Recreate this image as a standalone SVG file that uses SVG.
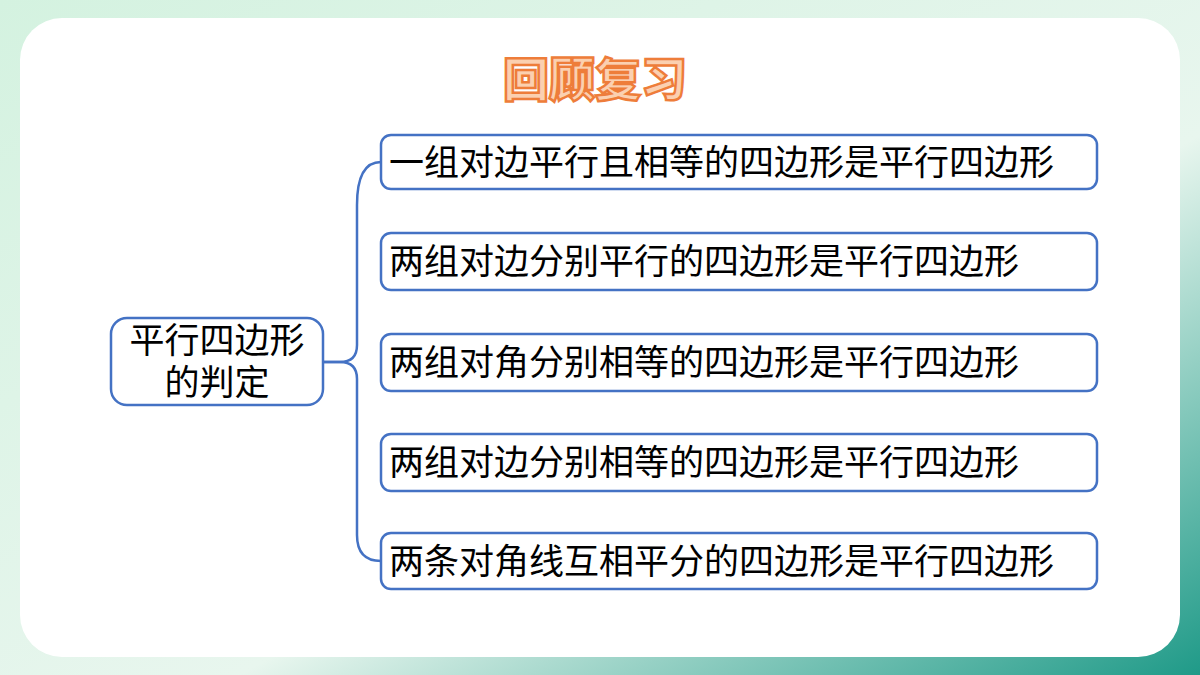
<svg xmlns="http://www.w3.org/2000/svg" width="1200" height="675" viewBox="0 0 1200 675">
<defs>
<linearGradient id="bg" x1="0" y1="0" x2="1" y2="1">
<stop offset="0" stop-color="#d4f2e0"/><stop offset="0.6" stop-color="#e8f6ee"/><stop offset="1" stop-color="#1f9a88"/>
</linearGradient>
<style>
.box{fill:#fff;stroke:#4472c4;stroke-width:2.5}
.t{font-family:"Noto Sans CJK SC",sans-serif;font-size:35px;fill:#000}
.c{fill:none;stroke:#4472c4;stroke-width:2.5}
</style>
</defs>
<rect width="1200" height="675" fill="url(#bg)"/>
<rect x="20" y="18" width="1160" height="639" rx="42" fill="#fff"/>
<text x="595" y="96" text-anchor="middle" font-family="Noto Sans CJK SC,sans-serif" font-weight="900" font-size="46" fill="#fbd0b0" stroke="#ee7d3a" stroke-width="2.5">回顾复习</text>
<g id="connectors">
<path class="c" d="M323,362 H340 Q357,362 357,345 V205 Q357,162 381,162"/>
<path class="c" d="M323,362 H340 Q357,362 357,379 V535 Q357,561 381,561"/>
</g>
<g id="root"><rect class="box" x="111" y="318" width="212" height="87" rx="16"/>
<text class="t" x="217" y="353" text-anchor="middle">平行四边形</text><text class="t" x="217" y="395" text-anchor="middle">的判定</text></g>
<g id="n1"><rect class="box" x="381" y="135" width="716" height="54" rx="10"/><text class="t" x="389" y="175">一组对边平行且相等的四边形是平行四边形</text></g>
<g id="n2"><rect class="box" x="381" y="233" width="716" height="57" rx="10"/><text class="t" x="389" y="274">两组对边分别平行的四边形是平行四边形</text></g>
<g id="n3"><rect class="box" x="381" y="334" width="716" height="57" rx="10"/><text class="t" x="389" y="375">两组对角分别相等的四边形是平行四边形</text></g>
<g id="n4"><rect class="box" x="381" y="434" width="716" height="57" rx="10"/><text class="t" x="389" y="475">两组对边分别相等的四边形是平行四边形</text></g>
<g id="n5"><rect class="box" x="381" y="533" width="716" height="56" rx="10"/><text class="t" x="389" y="574">两条对角线互相平分的四边形是平行四边形</text></g>
</svg>
